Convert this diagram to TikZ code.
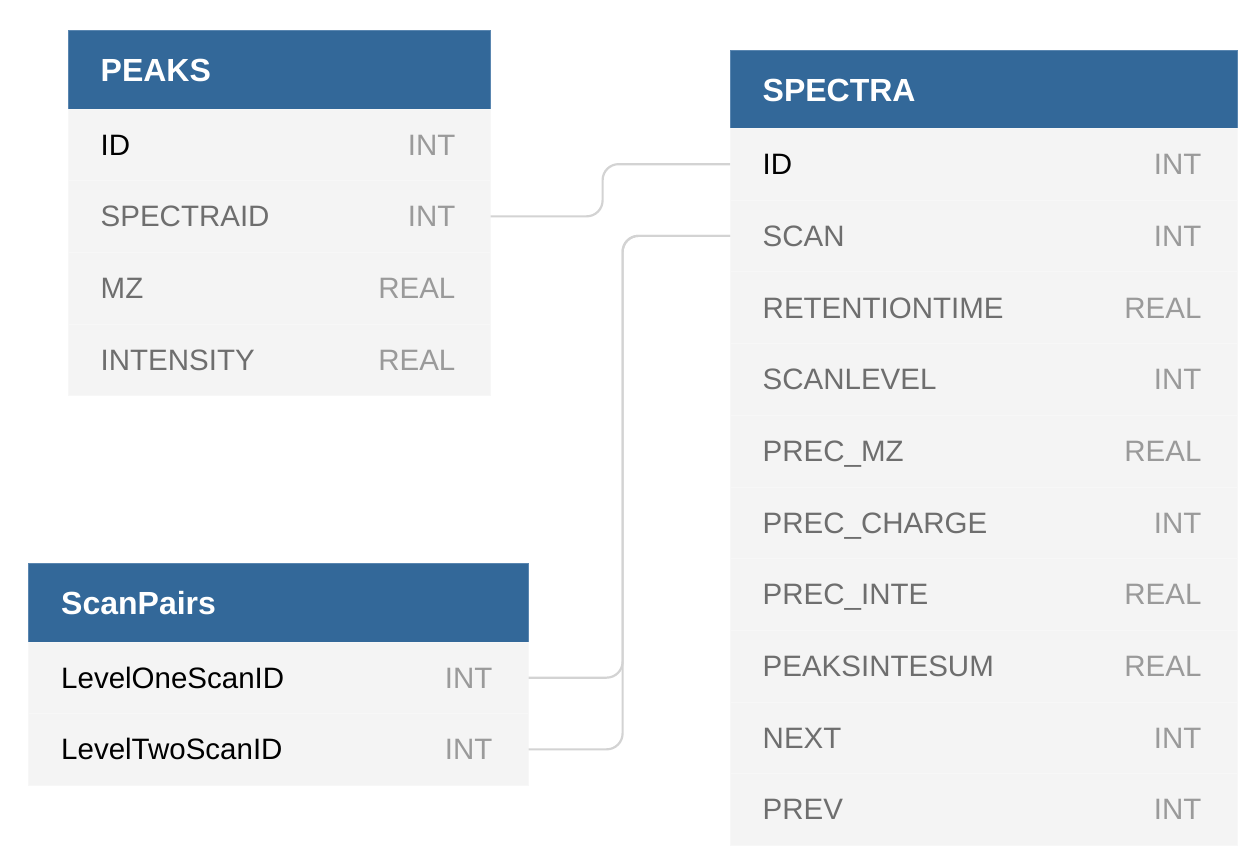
\documentclass[tikz,border=0pt]{standalone}
\usepackage{fontspec}
\setmainfont{Liberation Sans}
\definecolor{hdrblue}{HTML}{336899}
\definecolor{hdredge}{HTML}{5A86B0}
\definecolor{rowfill}{HTML}{F4F4F4}
\definecolor{rowline}{HTML}{F7F7F7}
\definecolor{coltext}{HTML}{6E6E6E}
\definecolor{typetext}{HTML}{9A9A9A}
\definecolor{linkgray}{HTML}{D3D3D3}
\tikzset{
  hdrbox/.style={fill=hdrblue, draw=hdredge, line width=0.6pt, anchor=north west,
                 inner sep=0pt, minimum height=78.5pt},
  rowbox/.style={fill=rowfill, draw=rowline, line width=0.6pt, anchor=north west,
                 inner sep=0pt, minimum height=71.7pt},
  tabletitle/.style={anchor=base west, text=white, inner sep=0pt,
                 font=\bfseries\fontsize{32}{36}\selectfont},
  colname/.style={anchor=base west, text=coltext, inner sep=0pt,
                 font=\fontsize{29.5}{34}\selectfont},
  keyname/.style={colname, text=black},
  coltype/.style={anchor=base east, text=typetext, inner sep=0pt,
                 font=\fontsize{29.5}{34}\selectfont},
  link/.style={draw=linkgray, line width=2.2pt, rounded corners=16pt}
}
\begin{document}
\begin{tikzpicture}[x=1pt, y=-1pt]
\useasboundingbox[fill=white] (0,0) rectangle (1259,865);

% PEAKS table
\node[hdrbox, minimum width=422pt] (peaks) at (68,30) {};
\node[tabletitle] (peaks-title) at ([xshift=32.5pt, yshift=-12pt]peaks.west) {PEAKS};
\foreach \n/\t/\k [count=\i] in {ID/INT/keyname, SPECTRAID/INT/colname,
                                  MZ/REAL/colname, INTENSITY/REAL/colname}{
  \node[rowbox, minimum width=422pt] (peaks-\i) at (68,{108.5+71.7*(\i-1)}) {};
  \node[\k] (peaks-\i-name) at ([xshift=32.5pt, yshift=-10.5pt]peaks-\i.west) {\n};
  \node[coltype] (peaks-\i-type) at ([xshift=-35pt, yshift=-10.5pt]peaks-\i.east) {\t};
}

% SPECTRA table
\node[hdrbox, minimum width=507pt] (spectra) at (730,49.5) {};
\node[tabletitle] (spectra-title) at ([xshift=32.5pt, yshift=-12pt]spectra.west) {SPECTRA};
\foreach \n/\t/\k [count=\i] in {ID/INT/keyname, SCAN/INT/colname,
                                  RETENTIONTIME/REAL/colname, SCANLEVEL/INT/colname,
                                  PREC\_MZ/REAL/colname, PREC\_CHARGE/INT/colname,
                                  PREC\_INTE/REAL/colname, PEAKSINTESUM/REAL/colname,
                                  NEXT/INT/colname, PREV/INT/colname}{
  \node[rowbox, minimum width=507pt] (spectra-\i) at (730,{128+71.7*(\i-1)}) {};
  \node[\k] (spectra-\i-name) at ([xshift=32.5pt, yshift=-10.5pt]spectra-\i.west) {\n};
  \node[coltype] (spectra-\i-type) at ([xshift=-36pt, yshift=-10.5pt]spectra-\i.east) {\t};
}

% ScanPairs table
\node[hdrbox, minimum width=500pt] (pairs) at (28,563) {};
\node[tabletitle] (pairs-title) at ([xshift=33pt, yshift=-12pt]pairs.west) {ScanPairs};
\foreach \n/\t/\k [count=\i] in {LevelOneScanID/INT/keyname, LevelTwoScanID/INT/keyname}{
  \node[rowbox, minimum width=500pt] (pairs-\i) at (28,{641.5+71.7*(\i-1)}) {};
  \node[\k] (pairs-\i-name) at ([xshift=33pt, yshift=-10.5pt]pairs-\i.west) {\n};
  \node[coltype] (pairs-\i-type) at ([xshift=-36pt, yshift=-10.5pt]pairs-\i.east) {\t};
}

% Foreign-key links
\draw[link] (peaks-2.east) -- ++(112,0) |- (spectra-1.west);
\draw[link] (pairs-1.east) -- ++(94,0) |- (spectra-2.west);
\draw[link] (pairs-2.east) -- ++(94,0) |- (spectra-2.west);
\end{tikzpicture}
\end{document}
